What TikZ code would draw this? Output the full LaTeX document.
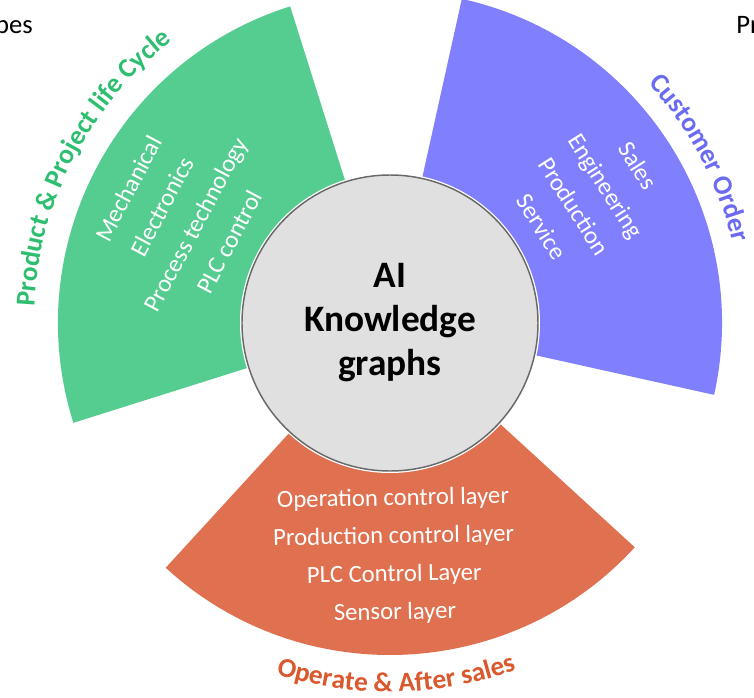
\documentclass[tikz,border=0pt]{standalone}
\usepackage{fontspec}
\setmainfont{Carlito}
\usetikzlibrary{decorations.text}

\definecolor{greenfill}{RGB}{86,205,144}
\definecolor{bluefill}{RGB}{128,128,255}
\definecolor{orangefill}{RGB}{224,113,80}
\definecolor{greenlbl}{RGB}{46,190,112}
\definecolor{bluelbl}{RGB}{106,106,242}
\definecolor{orangelbl}{RGB}{217,88,45}
\definecolor{kgfill}{RGB}{224,224,224}
\definecolor{kgline}{RGB}{105,105,105}

\newcommand{\lblfont}{\fontsize{20.5}{24}\selectfont\bfseries}

\tikzset{
  itemtext/.style={text=white, align=center, inner sep=0pt, font=\fontsize{18.5}{28.5}\selectfont},
  arclabel/.style={decorate, decoration={text along path, text align=center, text={#1}}},
  cornertext/.style={inner sep=0pt, font=\fontsize{20}{24}\selectfont}
}

\begin{document}
\begin{tikzpicture}[x=0.75pt,y=0.75pt]
\useasboundingbox (-390,-374) rectangle (364,323);

%Shape: Sectors
\foreach \a/\col in {-12.5/bluefill, 107.5/greenfill, 227.5/orangefill}
  \fill[\col] (0,0) -- (\a:332) arc[start angle=\a, end angle={\a+90}, radius=332] -- cycle;

%Shape: Circle
\fill[white] (0,0) circle (150);
\node (kg) [circle, minimum size=222pt, fill=kgfill, draw=kgline, line width=1.1pt, align=center,
  font=\fontsize{28}{33}\selectfont\bfseries] at (0,0) {AI\\Knowledge\\graphs};

% Text Node
\node (lifecycle) [itemtext, rotate=62] at (153:237) {Mechanical\\Electronics\\Process technology\\PLC control};
% Text Node
\node (order) [itemtext, rotate=-57.6] at (32.4:237) {Sales\\Engineering\\Production\\Service};
% Text Node
\node (operate) [itemtext, rotate=1] at (271:233) {Operation control layer\\Production control layer\\PLC Control Layer\\Sensor layer};

%Curved labels
\path[arclabel={|\lblfont\color{greenlbl}|Product {\&} Project life Cycle}] (190:356) arc[start angle=190, end angle=115, radius=356];
\path[arclabel={|\lblfont\color{bluelbl}|Customer Order}] (65:352) arc[start angle=65, end angle=-9, radius=352];
\path[arclabel={|\lblfont\color{orangelbl}|Operate {\&} After sales}] (240:369) arc[start angle=240, end angle=302, radius=369];

% Text Node
\node (types) [cornertext, anchor=base east] at (-357,290) {pes};
% Text Node
\node (pr) [cornertext, anchor=base west] at (346,290) {Pr};

\end{tikzpicture}
\end{document}
